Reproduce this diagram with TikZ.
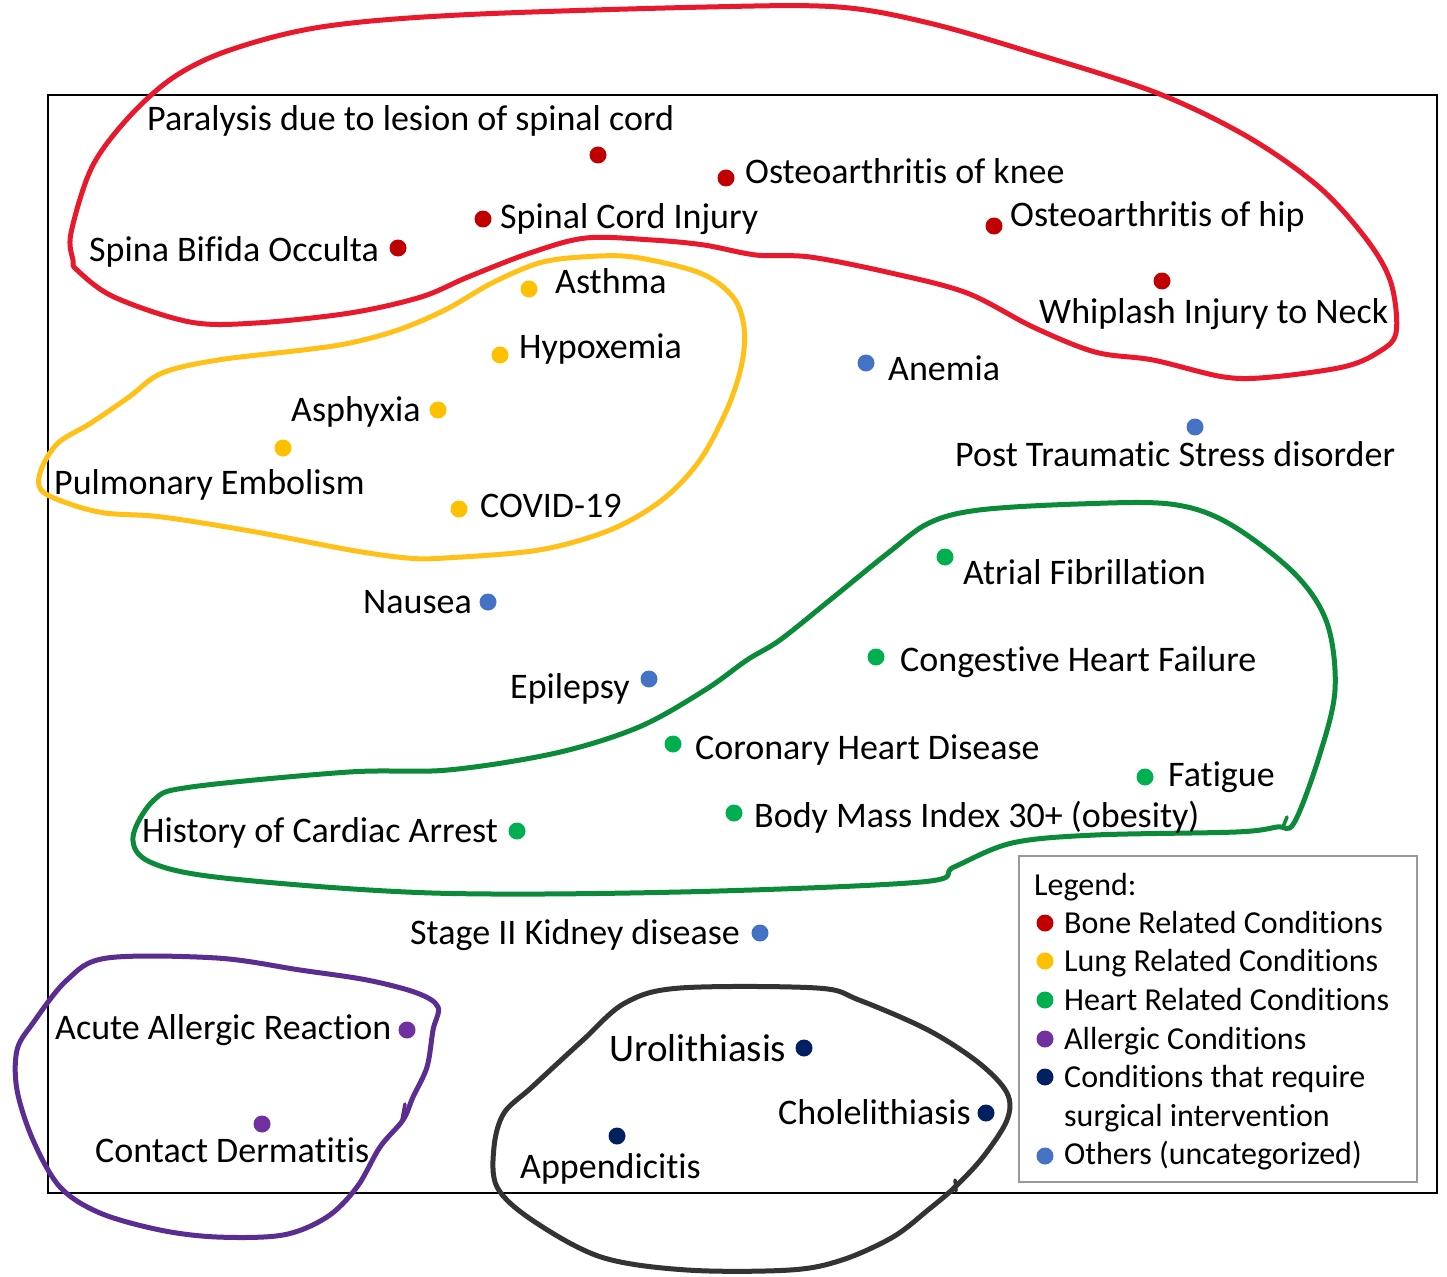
\documentclass[tikz,border=0pt]{standalone}
\usepackage{fontspec}
\setmainfont{Carlito}[Ligatures=NoCommon]
\definecolor{boneC}{HTML}{C00000}
\definecolor{lungC}{HTML}{FFC000}
\definecolor{heartC}{HTML}{00B050}
\definecolor{allerC}{HTML}{7030A0}
\definecolor{surgC}{HTML}{002060}
\definecolor{otherC}{HTML}{4472C4}
\definecolor{redLoop}{HTML}{E8192C}
\definecolor{yelLoop}{HTML}{FFC119}
\definecolor{grnLoop}{HTML}{0B8A3A}
\definecolor{purLoop}{HTML}{5B2D91}
\definecolor{blkLoop}{HTML}{333333}
\begin{document}
\begin{tikzpicture}[x=1pt,y=-1pt,
  mdot/.style={circle,inner sep=0pt,minimum size=17pt,fill=#1},
  ldot/.style={circle,inner sep=0pt,minimum size=17pt,fill=#1},
  lbl/.style={anchor=base west,inner sep=0pt,font=\fontsize{36}{42}\selectfont},
  leg/.style={anchor=base west,inner sep=0pt,font=\fontsize{32}{38}\selectfont},
  lw/.style={line width=5pt,line cap=round,line join=round}]
\useasboundingbox (0,0) rectangle (1447,1276);
\fill[white] (0,0) rectangle (1447,1276);
% frame
\draw[line width=1.6pt] (48,95) rectangle (1437,1193);
% legend frame
\draw[line width=1.6pt,draw=gray!80] (1019,856) rectangle (1417,1182);

% loops
\draw[lw,redLoop] plot[smooth cycle,tension=0.55] coordinates {(73,260) (71,233) (92,167) (129,117) (174,77) (230,50) (321,27) (459,15) (707,7) (838,7) (929,23) (1033,53) (1157,93) (1248,137) (1319,187) (1367,240) (1391,283) (1396,333) (1377,353) (1343,367) (1272,377) (1224,377) (1153,360) (1095,352) (1033,327) (967,293) (891,273) (810,257) (756,255) (704,245) (652,240) (586,238) (530,253) (468,277) (421,297) (350,313) (256,323) (190,322) (114,297) (77,270)};
\draw[lw,yelLoop] plot[smooth cycle,tension=0.55] coordinates {(582,257) (633,257) (700,273) (733,297) (744,327) (742,363) (728,407) (700,460) (662,500) (610,530) (539,550) (445,558) (407,558) (350,550) (256,532) (162,517) (105,513) (67,503) (41,490) (41,470) (58,443) (91,423) (129,397) (162,373) (218,360) (303,350) (350,343) (398,330) (445,310) (492,283) (539,263)};
\draw[lw,grnLoop] plot[smooth cycle,tension=0.55] coordinates {(1078,504) (1170,504) (1228,523) (1294,573) (1327,623) (1335,690) (1319,757) (1294,823) (1277,827) (1236,832) (1095,835) (1012,843) (954,867) (921,882) (680,892) (432,893) (224,878) (150,862) (133,837) (154,800) (191,787) (349,772) (448,770) (556,753) (639,727) (705,690) (747,660) (780,640) (830,600) (888,553) (929,523) (979,510)};
\draw[lw,purLoop] plot[smooth cycle,tension=0.55] coordinates {(107,958) (217,958) (300,970) (367,980) (417,993) (438,1007) (433,1030) (427,1067) (413,1097) (403,1120) (380,1147) (357,1187) (327,1217) (283,1235) (217,1237) (160,1230) (100,1213) (60,1187) (33,1140) (17,1090) (17,1050) (33,1023) (67,980)};
\draw[lw,blkLoop] plot[smooth cycle,tension=0.55] coordinates {(680,988) (817,988) (859,1000) (928,1030) (979,1063) (1007,1093) (1007,1120) (983,1157) (955,1187) (928,1210) (893,1237) (842,1260) (790,1270) (687,1270) (601,1257) (532,1220) (497,1187) (494,1147) (504,1113) (532,1087) (583,1040) (625,1003)};
% small pen ticks
\draw[line width=3.5pt,line cap=round,grnLoop] (1283,827) -- (1287,817);
\draw[line width=3.5pt,line cap=round,purLoop] (405,1104) -- (402,1120);
\draw[line width=3.5pt,line cap=round,blkLoop] (955,1180) -- (956,1191);

% dots
\node[mdot=boneC] (d1) at (598,155) {};
\node[mdot=boneC] (d2) at (726,178) {};
\node[mdot=boneC] (d3) at (483,219) {};
\node[mdot=boneC] (d4) at (994,226) {};
\node[mdot=boneC] (d5) at (398,248) {};
\node[mdot=boneC] (d6) at (1162,281) {};
\node[mdot=lungC] (d7) at (529,289) {};
\node[mdot=lungC] (d8) at (500,355) {};
\node[mdot=otherC] (d9) at (866,363) {};
\node[mdot=lungC] (d10) at (438,410) {};
\node[mdot=lungC] (d11) at (283,448) {};
\node[mdot=otherC] (d12) at (1195,427) {};
\node[mdot=lungC] (d13) at (459,509) {};
\node[mdot=heartC] (d14) at (945,557) {};
\node[mdot=otherC] (d15) at (488,602) {};
\node[mdot=heartC] (d16) at (876,657) {};
\node[mdot=otherC] (d17) at (649,679) {};
\node[mdot=heartC] (d18) at (673,744) {};
\node[mdot=heartC] (d19) at (1145,777) {};
\node[mdot=heartC] (d20) at (734,813) {};
\node[mdot=heartC] (d21) at (517,831) {};
\node[mdot=otherC] (d22) at (760,933) {};
\node[mdot=allerC] (d23) at (407,1030) {};
\node[mdot=allerC] (d24) at (262,1124) {};
\node[mdot=surgC] (d25) at (804,1048) {};
\node[mdot=surgC] (d26) at (986,1113) {};
\node[mdot=surgC] (d27) at (617,1136) {};

% labels
\node[lbl] (t1) at (147,131) {Paralysis due to lesion of spinal cord};
\node[lbl] (t2) at (745,183) {Osteoarthritis of knee};
\node[lbl] (t3) at (500,228) {Spinal Cord Injury};
\node[lbl] (t4) at (1010,226) {Osteoarthritis of hip};
\node[lbl] (t5) at (89,261) {Spina Bifida Occulta};
\node[lbl] (t6) at (1039,323) {Whiplash Injury to Neck};
\node[lbl] (t7) at (555,293) {Asthma};
\node[lbl] (t8) at (519,358) {Hypoxemia};
\node[lbl] (t9) at (888,380) {Anemia};
\node[lbl] (t10) at (291,421) {Asphyxia};
\node[lbl] (t11) at (54,494) {Pulmonary Embolism};
\node[lbl] (t12) at (955,466) {Post Traumatic Stress disorder};
\node[lbl] (t13) at (480,517) {COVID-19};
\node[lbl] (t14) at (963,584) {Atrial Fibrillation};
\node[lbl] (t15) at (363,613) {Nausea};
\node[lbl] (t16) at (900,671) {Congestive Heart Failure};
\node[lbl] (t17) at (510,698) {Epilepsy};
\node[lbl] (t18) at (695,759) {Coronary Heart Disease};
\node[lbl] (t19) at (1168,786) {Fatigue};
\node[lbl] (t20) at (754,827) {Body Mass Index 30+ (obesity)};
\node[lbl] (t21) at (142,842) {History of Cardiac Arrest};
\node[lbl] (t22) at (410,944) {Stage II Kidney disease};
\node[lbl] (t23) at (55,1039) {Acute Allergic Reaction};
\node[lbl] (t24) at (95,1162) {Contact Dermatitis};
\node[lbl,font=\fontsize{39}{44}\selectfont] (t25) at (609,1061) {Urolithiasis};
\node[lbl] (t26) at (778,1124) {Cholelithiasis};
\node[lbl] (t27) at (520,1178) {Appendicitis};

% legend
\node[leg] (lg0) at (1034,895) {Legend:};
\node[ldot=boneC]  (ld1) at (1045,923) {};
\node[leg] (lg1) at (1064,933) {Bone Related Conditions};
\node[ldot=lungC]  (ld2) at (1045,961) {};
\node[leg] (lg2) at (1064,971) {Lung Related Conditions};
\node[ldot=heartC] (ld3) at (1045,1000) {};
\node[leg] (lg3) at (1064,1010) {Heart Related Conditions};
\node[ldot=allerC] (ld4) at (1045,1039) {};
\node[leg] (lg4) at (1064,1049) {Allergic Conditions};
\node[ldot=surgC]  (ld5) at (1045,1077) {};
\node[leg] (lg5) at (1064,1087) {Conditions that require};
\node[leg] (lg5b) at (1064,1126) {surgical intervention};
\node[ldot=otherC] (ld6) at (1045,1156) {};
\node[leg] (lg6) at (1064,1164) {Others (uncategorized)};
\end{tikzpicture}
\end{document}
